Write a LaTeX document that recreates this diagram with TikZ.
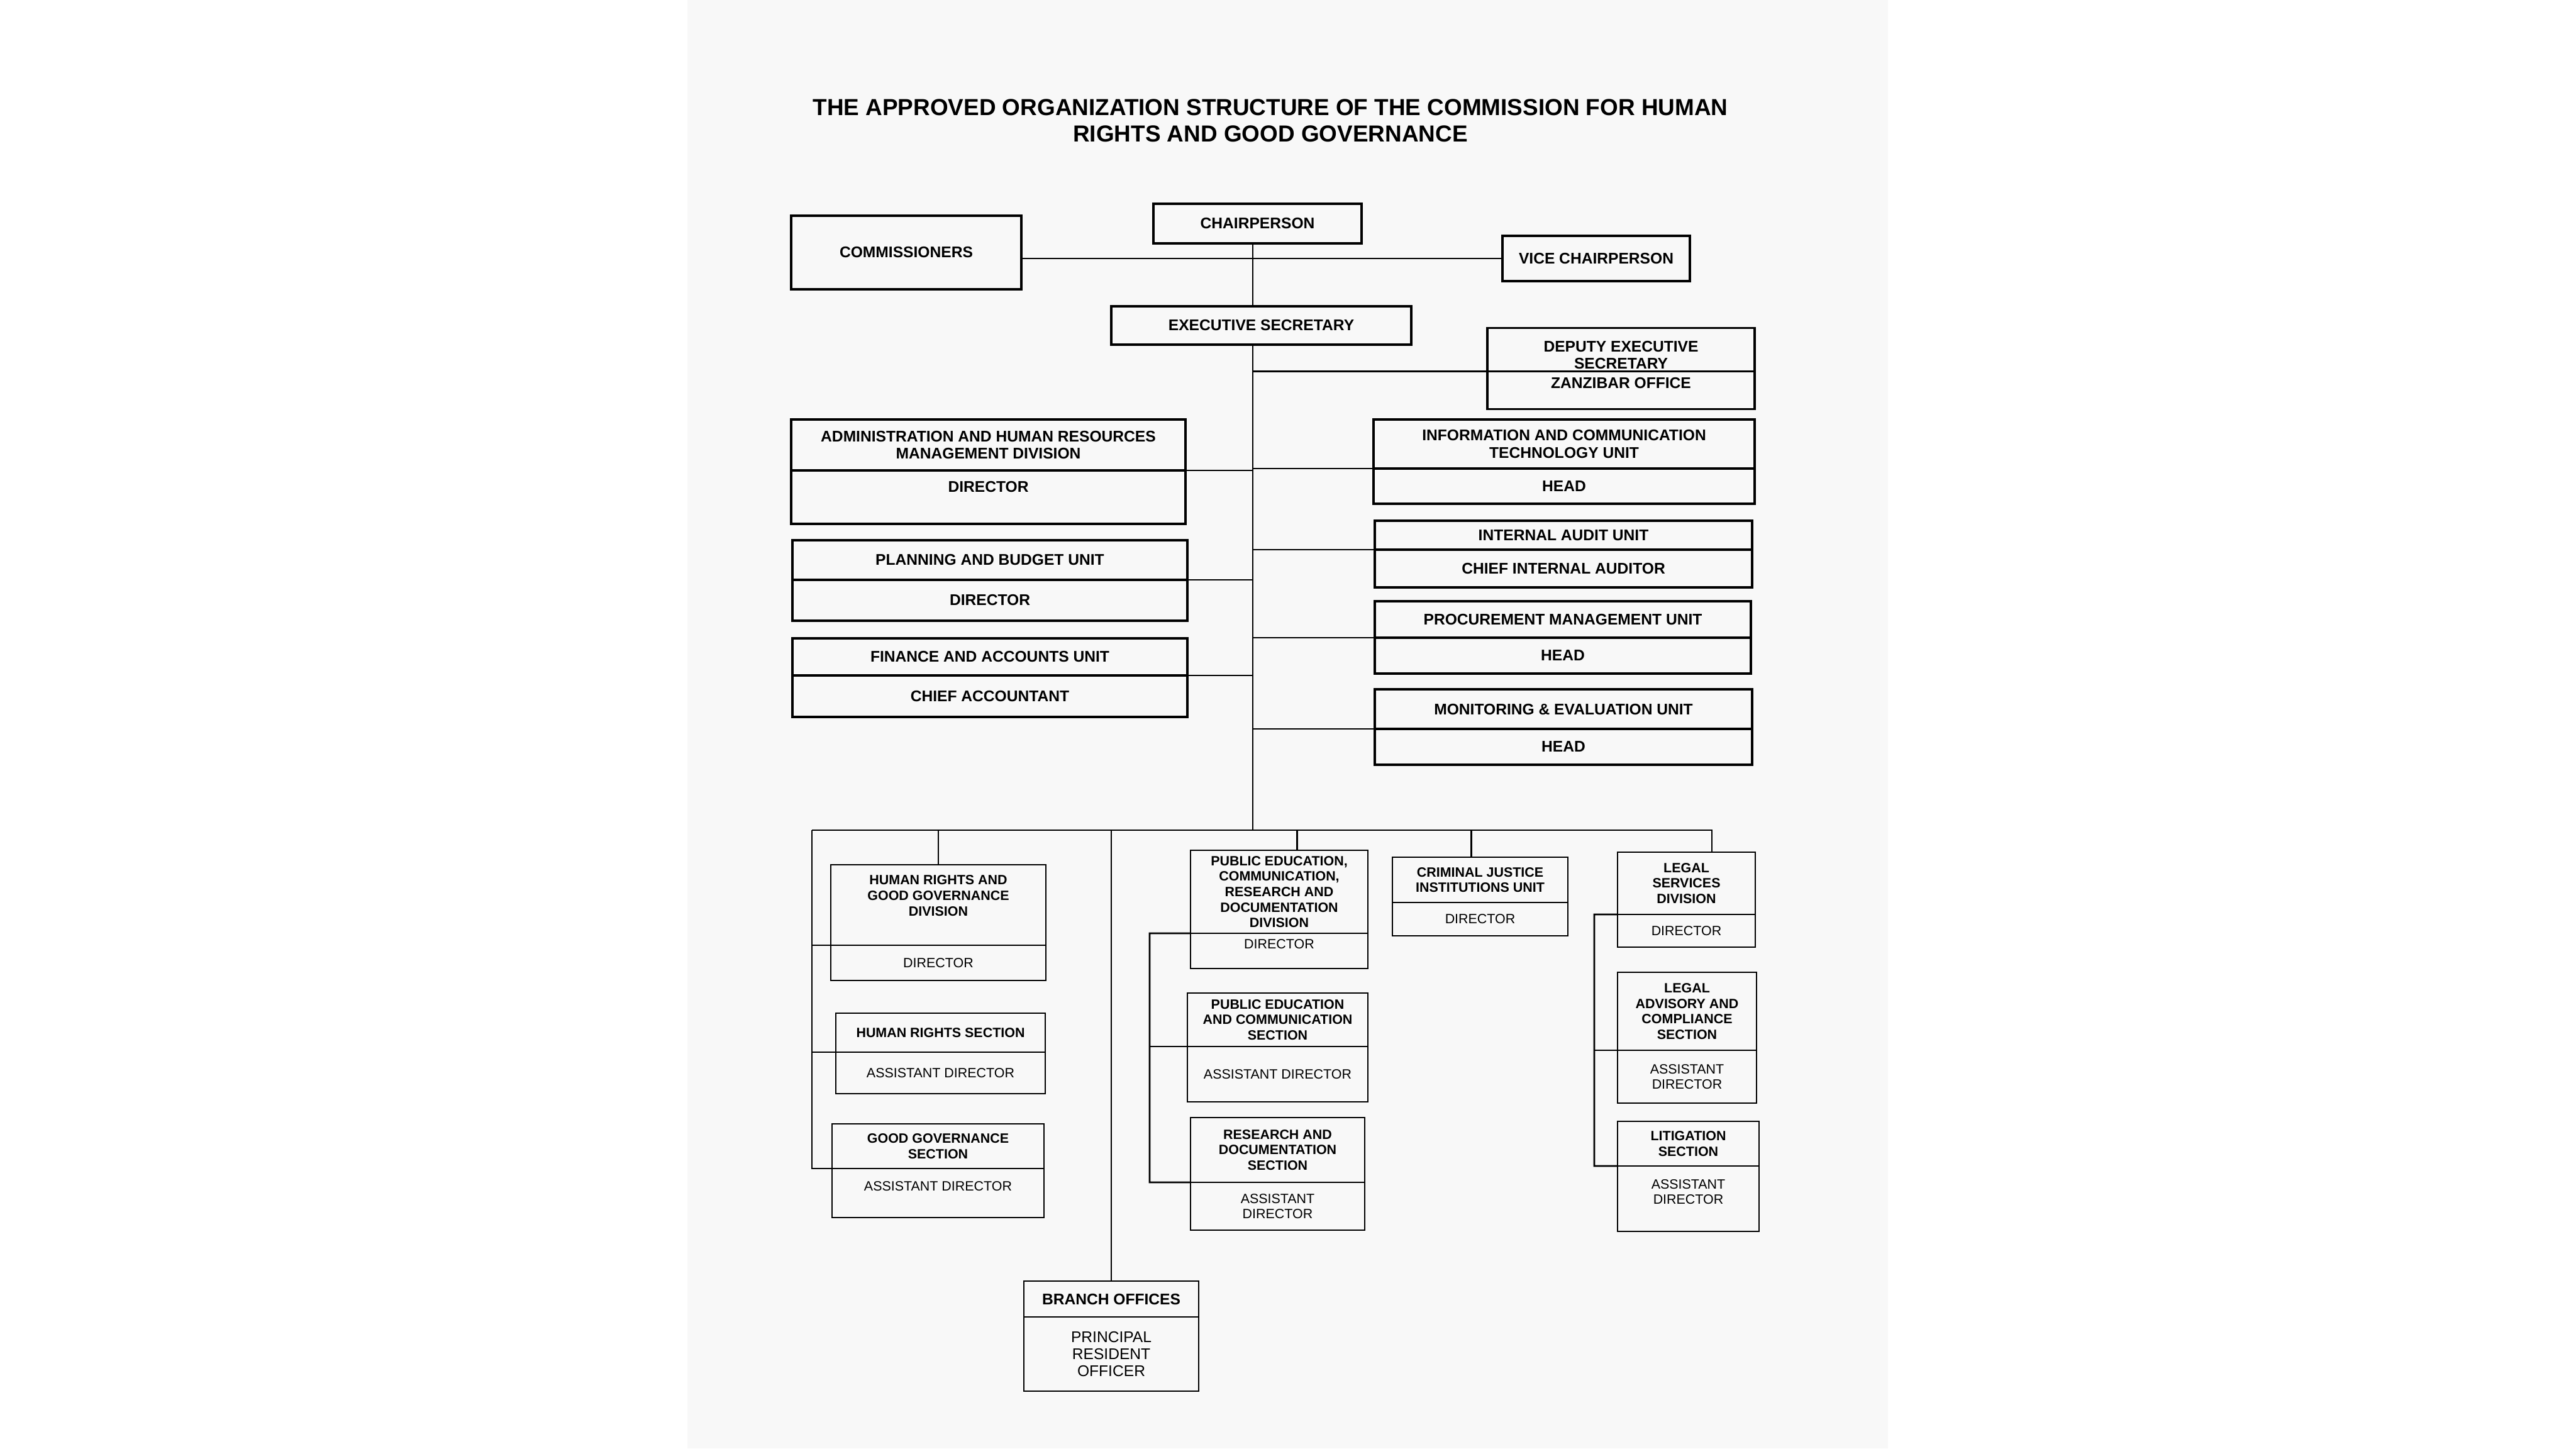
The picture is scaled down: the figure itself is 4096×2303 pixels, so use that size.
\documentclass[tikz,border=0pt]{standalone}
\usepackage{fontspec}
\setmainfont{Liberation Sans}
\usepackage{xcolor}
\usetikzlibrary{positioning, calc}

\definecolor{paper}{RGB}{248,248,248}
\newcommand{\orgfont}{\fontsize{7}{7.8}\selectfont}
\newcommand{\orgsmall}{\fontsize{6.1}{7}\selectfont}

\begin{document}
\begin{tikzpicture}[
    x=0.1mm, y=-0.1mm,
    box/.style={rectangle, draw=black, line width=0.9pt, inner sep=1pt, outer sep=0pt, align=center, text=black},
    unitbox/.style={box, font=\orgfont\bfseries},
    rolebox/.style={box, font=\orgfont\bfseries},
    secbox/.style={box, line width=0.75pt, font=\orgsmall\bfseries},
    offbox/.style={box, line width=0.75pt, font=\orgsmall},
    link/.style={line width=0.8pt, draw=black},
    doctitle/.style={font=\fontsize{10.5}{12}\selectfont\bfseries, align=center}
]

\useasboundingbox (0,0) rectangle (4096,2303);
\fill[paper] (1093,0) rectangle (3002,2303);

% Title
\node[doctitle] (ttl) at (2020,192) {THE APPROVED ORGANIZATION STRUCTURE OF THE COMMISSION FOR HUMAN\\RIGHTS AND GOOD GOVERNANCE};

% Top level
\node[unitbox, minimum width=33.1mm, minimum height=6.3mm] (chair) at (1999.5,355.5) {CHAIRPERSON};
\node[unitbox, minimum width=36.6mm, minimum height=11.7mm] (comm) at (1441,401.5) {COMMISSIONERS};
\node[unitbox, minimum width=29.8mm, minimum height=7.2mm] (vice) at (2538,411) {VICE CHAIRPERSON};
\node[unitbox, minimum width=47.7mm, minimum height=6.1mm] (exec) at (2005.5,517.5) {EXECUTIVE SECRETARY};

% Trunk
\coordinate (trunk) at (1992,1320);
\draw[link] (comm.east |- vice.west) -- (vice.west);
\draw[link] (chair.south -| trunk) -- (exec.north -| trunk);
\draw[link] (exec.south -| trunk) -- (trunk);

% Deputy Executive Secretary
\node[unitbox, text height=17.5pt, minimum width=42.5mm, minimum height=6.6mm] (dep) at (2577.5,556) {DEPUTY EXECUTIVE\\SECRETARY};
\node[rolebox, text depth=6.5pt, below=0pt of dep, minimum width=42.5mm, minimum height=6mm] (depoff) {ZANZIBAR OFFICE};
\draw[link] (dep.south west) -- (dep.south west -| trunk);

% Left units
\node[unitbox, minimum width=62.7mm, minimum height=8.1mm] (adm) at (1571.5,707.5) {ADMINISTRATION AND HUMAN RESOURCES\\MANAGEMENT DIVISION};
\node[rolebox, text depth=9.6pt, below=0pt of adm, minimum width=62.7mm, minimum height=8.5mm] (admdir) {DIRECTOR};
\draw[link] (adm.south east) -- (adm.south east -| trunk);

\node[unitbox, minimum width=62.8mm, minimum height=6.3mm] (plan) at (1574,890.5) {PLANNING AND BUDGET UNIT};
\node[rolebox, below=0pt of plan, minimum width=62.8mm, minimum height=6.5mm] (plandir) {DIRECTOR};
\draw[link] (plan.south east) -- (plan.south east -| trunk);

\node[unitbox, minimum width=62.8mm, minimum height=5.9mm] (fin) at (1574,1044.5) {FINANCE AND ACCOUNTS UNIT};
\node[rolebox, below=0pt of fin, minimum width=62.8mm, minimum height=6.6mm] (finacc) {CHIEF ACCOUNTANT};
\draw[link] (fin.south east) -- (fin.south east -| trunk);

% Right units
\node[unitbox, minimum width=60.6mm, minimum height=7.8mm] (ict) at (2487,706) {INFORMATION AND COMMUNICATION\\TECHNOLOGY UNIT};
\node[rolebox, below=0pt of ict, minimum width=60.6mm, minimum height=5.6mm] (icthead) {HEAD};
\draw[link] (ict.south west) -- (ict.south west -| trunk);

\node[unitbox, minimum width=60mm, minimum height=4.6mm] (audit) at (2486,851) {INTERNAL AUDIT UNIT};
\node[rolebox, below=0pt of audit, minimum width=60mm, minimum height=6mm] (auditor) {CHIEF INTERNAL AUDITOR};
\draw[link] (audit.south west) -- (audit.south west -| trunk);

\node[unitbox, minimum width=59.8mm, minimum height=5.8mm] (proc) at (2485,985) {PROCUREMENT MANAGEMENT UNIT};
\node[rolebox, below=0pt of proc, minimum width=59.8mm, minimum height=5.7mm] (prochead) {HEAD};
\draw[link] (proc.south west) -- (proc.south west -| trunk);

\node[unitbox, minimum width=60mm, minimum height=6.3mm] (me) at (2486,1127.5) {MONITORING \& EVALUATION UNIT};
\node[rolebox, below=0pt of me, minimum width=60mm, minimum height=5.7mm] (mehead) {HEAD};
\draw[link] (me.south west) -- (me.south west -| trunk);

% Bus
\coordinate (busL) at (1291,1320);

% Human rights and good governance
\node[secbox, text depth=8.6pt, minimum width=34.2mm, minimum height=12.8mm] (hrg) at (1492,1439) {HUMAN RIGHTS AND\\GOOD GOVERNANCE\\DIVISION};
\node[offbox, below=0pt of hrg, minimum width=34.2mm, minimum height=5.6mm] (hrgdir) {DIRECTOR};

\node[secbox, minimum width=33.3mm, minimum height=6.2mm] (hrs) at (1495.5,1642) {HUMAN RIGHTS SECTION};
\node[offbox, below=0pt of hrs, minimum width=33.3mm, minimum height=6.6mm] (hrsad) {ASSISTANT DIRECTOR};

\node[secbox, minimum width=33.7mm, minimum height=7.1mm] (gg) at (1491.5,1822.5) {GOOD GOVERNANCE\\SECTION};
\node[offbox, text depth=6.5pt, below=0pt of gg, minimum width=33.7mm, minimum height=7.8mm] (ggad) {ASSISTANT DIRECTOR};

\draw[link] (busL) |- (gg.south west);
\draw[link] (hrg.south west) -- (hrg.south west -| busL);
\draw[link] (hrs.south west) -- (hrs.south west -| busL);
\draw[link] (hrg.north) -- (hrg.north |- busL);

% Public education
\node[secbox, minimum width=28.2mm, minimum height=13.2mm] (ped) at (2034,1418) {PUBLIC EDUCATION,\\COMMUNICATION,\\RESEARCH AND\\DOCUMENTATION\\DIVISION};
\node[offbox, below=0pt of ped, text depth=6pt, minimum width=28.2mm, minimum height=5.6mm] (peddir) {DIRECTOR};

\node[secbox, minimum width=28.7mm, minimum height=8.5mm] (pec) at (2031.5,1621.5) {PUBLIC EDUCATION\\AND COMMUNICATION\\SECTION};
\node[offbox, below=0pt of pec, minimum width=28.7mm, minimum height=8.8mm] (pecad) {ASSISTANT DIRECTOR};

\node[secbox, minimum width=27.7mm, minimum height=10.3mm] (rd) at (2031.5,1828.5) {RESEARCH AND\\DOCUMENTATION\\SECTION};
\node[offbox, below=0pt of rd, minimum width=27.7mm, minimum height=7.6mm] (rdad) {ASSISTANT\\DIRECTOR};

\coordinate (midL) at (1828,1484);
\draw[link] (ped.south west) -- (midL) |- (rd.south west);
\draw[link] (pec.south west) -- (pec.south west -| midL);
\draw[link] ($(ped.north west)!.6!(ped.north east)$) coordinate (pdrop) -- (pdrop |- busL);

% Criminal justice
\node[secbox, minimum width=27.9mm, minimum height=7.2mm] (cj) at (2353.5,1399) {CRIMINAL JUSTICE\\INSTITUTIONS UNIT};
\node[offbox, below=0pt of cj, minimum width=27.9mm, minimum height=5.3mm] (cjdir) {DIRECTOR};
\draw[link] ($(cj.north west)!.45!(cj.north east)$) coordinate (cdrop) -- (cdrop |- busL);

% Legal services
\node[secbox, minimum width=21.9mm, minimum height=9.9mm] (lsd) at (2681.5,1404.5) {LEGAL\\SERVICES\\DIVISION};
\node[offbox, below=0pt of lsd, minimum width=21.9mm, minimum height=5.2mm] (lsddir) {DIRECTOR};

\node[secbox, minimum width=22.1mm, minimum height=12.4mm] (lad) at (2682.5,1608) {LEGAL\\ADVISORY AND\\COMPLIANCE\\SECTION};
\node[offbox, below=0pt of lad, minimum width=22.1mm, minimum height=8.4mm] (ladad) {ASSISTANT\\DIRECTOR};

\node[secbox, minimum width=22.5mm, minimum height=7.1mm] (lit) at (2684.5,1818.5) {LITIGATION\\SECTION};
\node[offbox, text depth=6.2pt, below=0pt of lit, minimum width=22.5mm, minimum height=10.4mm] (litad) {ASSISTANT\\DIRECTOR};

\coordinate (legL) at (2535,1454);
\draw[link] (lsd.south west) -- (legL) |- (lit.south west);
\draw[link] (lad.south west) -- (lad.south west -| legL);
\draw[link] (busL) -| ($(lsd.north west)!.685!(lsd.north east)$);

% Branch offices
\node[unitbox, line width=0.75pt, minimum width=27.8mm, minimum height=5.7mm] (branch) at (1767,2065.5) {BRANCH OFFICES};
\node[offbox, font=\orgfont, below=0pt of branch, minimum width=27.8mm, minimum height=11.8mm] (branchpro) {PRINCIPAL\\RESIDENT\\OFFICER};
\draw[link] (branch.north) -- (branch.north |- busL);

\end{tikzpicture}
\end{document}
